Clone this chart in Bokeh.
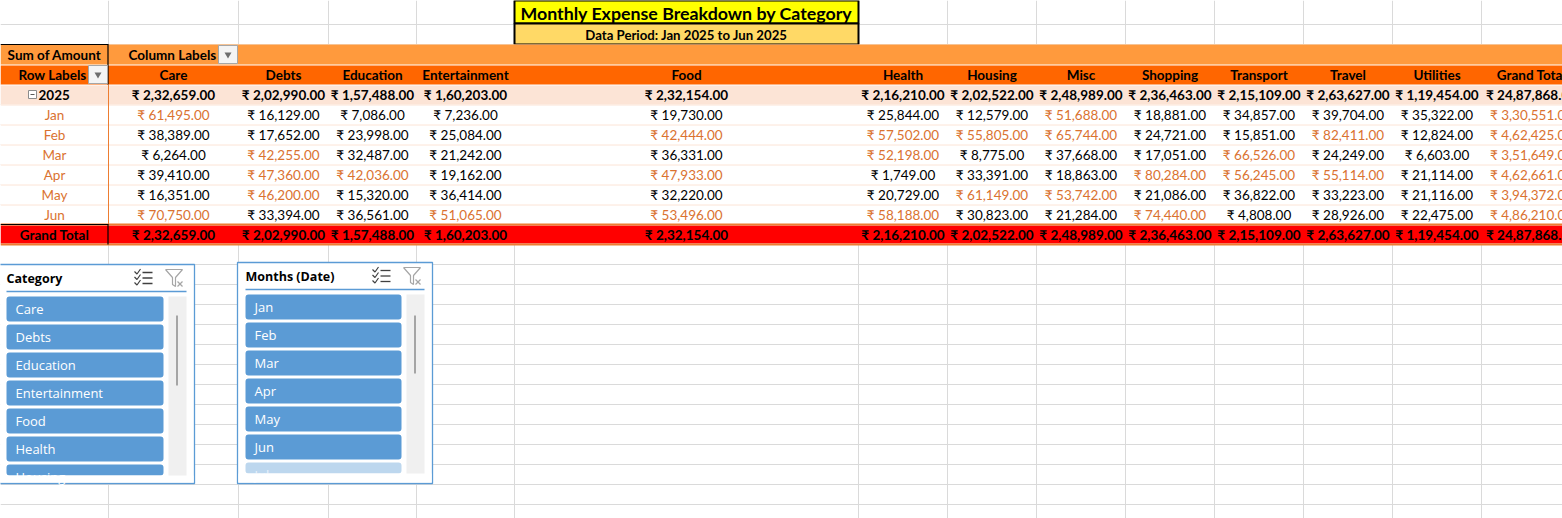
from bokeh.plotting import figure
from bokeh.models import ColumnDataSource, Range1d
from bokeh.core.properties import value
from bokeh.embed import file_html
from bokeh.resources import INLINE

TITLE = "Monthly Expense Breakdown by Category"
SUBTITLE = "Data Period: Jan 2025 to Jun 2025"
YEAR = "2025"

categories = ["Care", "Debts", "Education", "Entertainment", "Food", "Health",
              "Housing", "Misc", "Shopping", "Transport", "Travel", "Utilities"]
months = ["Jan", "Feb", "Mar", "Apr", "May", "Jun"]

care = [61495, 38389, 6264, 39410, 16351, 70750]
debts = [16129, 17652, 42255, 47360, 46200, 33394]
education = [7086, 23998, 32487, 42036, 15320, 36561]
entertainment = [7236, 25084, 21242, 19162, 36414, 51065]
food = [19730, 42444, 36331, 47933, 32220, 53496]
health = [25844, 57502, 52198, 1749, 20729, 58188]
housing = [12579, 55805, 8775, 33391, 61149, 30823]
misc = [51688, 65744, 37668, 18863, 53742, 21284]
shopping = [18881, 24721, 17051, 80284, 21086, 74440]
transport = [34857, 15851, 66526, 56245, 36822, 4808]
travel = [39704, 82411, 24249, 55114, 33223, 28926]
utilities = [35322, 12824, 6603, 21114, 21116, 22475]

slicer_categories = ["Care", "Debts", "Education", "Entertainment", "Food",
                     "Health", "Housing"]
slicer_months = ["Jan", "Feb", "Mar", "Apr", "May", "Jun", "Jul"]

series = [care, debts, education, entertainment, food, health, housing, misc,
          shopping, transport, travel, utilities]

# conditional formatting threshold used in the sheet
HIGHLIGHT = 40000

FONT = value("Lato")
SFONT = value("Open Sans")
GRID = "#DADADA"
ORANGE_TXT = "#DA7230"


def inr(v):
    s = str(int(v))
    if len(s) > 3:
        head, tail = s[:-3], s[-3:]
        parts = []
        while len(head) > 2:
            parts.insert(0, head[-2:])
            head = head[:-2]
        if head:
            parts.insert(0, head)
        s = ",".join(parts) + "," + tail
    return "\u20b9 " + s + ".00"


W, H = 1562, 518
p = figure(width=W, height=H, x_range=Range1d(0, W),
           y_range=Range1d(H, 0), output_backend="svg",
           toolbar_location=None, min_border=0,
           x_axis_location=None, y_axis_location=None)
p.grid.visible = False
p.outline_line_color = None
p.background_fill_color = "white"
p.border_fill_color = "white"


def put(xs, ys, texts, colors="black", size=13.5, bold=False, align="center",
        font=FONT):
    if isinstance(colors, str):
        colors = [colors] * len(xs)
    src = ColumnDataSource(dict(x=xs, y=ys, t=texts, c=colors))
    p.text("x", "y", text="t", text_color="c", source=src, text_font=font,
           text_font_size=f"{size}px",
           text_font_style="bold" if bold else "normal",
           text_align=align, text_baseline="middle")


# sheet gridlines
col_edges = [108, 238, 328, 416, 514, 858, 947, 1036, 1125, 1214, 1303,
             1392, 1481]
row_edges = [24 + 20 * k for k in range(25)]
p.multi_line([[x, x] for x in col_edges], [[0, 520]] * len(col_edges),
             line_color=GRID, line_width=1)
p.multi_line([[0, 1570]] * len(row_edges), [[y, y] for y in row_edges],
             line_color=GRID, line_width=1)

# title block
p.quad(left=[514], right=[858], top=[0], bottom=[23], fill_color="#FFFF00",
       line_color="black", line_width=2)
p.quad(left=[514], right=[858], top=[23], bottom=[44], fill_color="#FFD966",
       line_color="black", line_width=2)
put([686], [12], [TITLE], size=17.8, bold=True)
put([686], [34], [SUBTITLE], size=13.2, bold=True)

# pivot table
cols = [108, 238, 328, 416, 514, 858, 947, 1036, 1125, 1214, 1303, 1392,
        1481, 1581]
centers = [(a + b) / 2 for a, b in zip(cols[:-1], cols[1:])]
LEFT_C = 54

p.quad(left=[0], right=[1600], top=[44], bottom=[244], fill_color="white",
       line_color=None)
p.quad(left=[0], right=[1600], top=[44], bottom=[64], fill_color="#FF9A3D",
       line_color=None)
p.quad(left=[0], right=[1600], top=[65], bottom=[84], fill_color="#FF6600",
       line_color=None)
p.quad(left=[0], right=[1600], top=[85], bottom=[104], fill_color="#FCE4D6",
       line_color=None)
p.multi_line([[0, 1600]] * 6, [[104.5 + 20 * k] * 2 for k in range(6)],
             line_color="#FCE4D6", line_width=1)
p.quad(left=[0], right=[1600], top=[225], bottom=[243], fill_color="#FF0000",
       line_color=None)
p.multi_line([[0, 1600], [0, 1600]], [[224, 224], [244, 244]],
             line_color="#ED7D31", line_width=2)
p.line([108, 108], [84, 224], line_color="#ED7D31", line_width=1)
p.multi_line([[0, 108], [107.5, 107.5], [0, 108], [107.5, 107.5]],
             [[44, 44], [44, 84], [224, 224], [224, 244]],
             line_color="black", line_width=1.2)

put([LEFT_C], [54], ["Sum of Amount"], bold=True)
put([128], [54], ["Column Labels"], bold=True, align="left")
put([86], [74], ["Row Labels"], bold=True, align="right")
put(centers, [74] * len(categories), categories, bold=True)
put(centers[-1:], [74], ["Grand Total"], bold=True)

# dropdown buttons
p.quad(left=[218, 88], right=[237, 107], top=[45, 65], bottom=[63, 83],
       fill_color="#F4F4F4", line_color="#A6A6A6", line_width=1)
p.scatter([227.5, 97.5], [54, 74], marker="inverted_triangle", size=7,
          fill_color="#6E6E6E", line_color=None)

# year row
cat_totals = [sum(s) for s in series]
grand = sum(cat_totals)
p.quad(left=[28], right=[36], top=[90], bottom=[98], fill_color="white",
       line_color="#8C8C8C", line_width=1)
p.line([30, 34], [94, 94], line_color="#595959", line_width=1)
put([38], [94], [YEAR], bold=True, align="left")
put(centers, [94] * len(centers), [inr(v) for v in cat_totals + [grand]],
    bold=True)

# month rows
for i, m in enumerate(months):
    y = 114 + 20 * i
    vals = [s[i] for s in series]
    vals.append(sum(vals))
    put([LEFT_C], [y], [m], colors=ORANGE_TXT)
    put(centers, [y] * len(vals), [inr(v) for v in vals],
        colors=[ORANGE_TXT if v > HIGHLIGHT else "black" for v in vals])

# grand total row
put([LEFT_C], [234], ["Grand Total"], bold=True)
put(centers, [234] * len(centers), [inr(v) for v in cat_totals + [grand]],
    bold=True)


# slicers
def slicer(x0, x1, y0, y1, title, items, n_active, thumb):
    p.quad(left=[x0], right=[x1], top=[y0], bottom=[y1], fill_color="white",
           line_color="#5B9BD5", line_width=1.3)
    put([x0 + 8], [y0 + 14], [title], size=12.5, bold=True, align="left",
        font=SFONT)
    p.line([x0 + 8, x1 - 8], [y0 + 27, y0 + 27], line_color="#5B9BD5",
           line_width=1.5)
    # multi select icon
    ix = x1 - 60
    for k in range(3):
        yy = y0 + 7 + 5.5 * k
        p.line([ix, ix + 2.5, ix + 6], [yy, yy + 2.5, yy - 2.5],
               line_color="#404040", line_width=1.2)
        p.line([ix + 8, ix + 18], [yy + 1, yy + 1], line_color="#404040",
               line_width=1.3)
    # clear filter icon (disabled)
    fx = x1 - 29
    p.line([fx, fx + 17, fx + 10, fx + 10, fx + 7, fx + 7, fx],
           [y0 + 5, y0 + 5, y0 + 13, y0 + 22, y0 + 20, y0 + 13, y0 + 5],
           line_color="#A6A6A6", line_width=1.2)
    p.multi_line([[fx + 12, fx + 17], [fx + 12, fx + 17]],
                 [[y0 + 17, y0 + 22], [y0 + 22, y0 + 17]],
                 line_color="#A6A6A6", line_width=1.2)
    # items, the list is cut at the bottom of the visible area
    top0 = y0 + 32
    clip = top0 + 179
    lefts, rights, tops, bots, fills, tcol, ty, tx = [], [], [], [], [], [], [], []
    for k, it in enumerate(items):
        t = top0 + 28 * k
        lefts.append(x0 + 8)
        rights.append(x1 - 31)
        tops.append(t)
        bots.append(min(t + 25, clip))
        active = k < n_active
        fills.append("#5B9BD5" if active else "#BDD7EE")
        tcol.append("white" if active else "#E8F1FA")
        ty.append(t + 12.5)
        tx.append(x0 + 17)
    p.quad(left=lefts, right=rights, top=tops, bottom=bots, fill_color=fills,
           line_color=None, border_radius=3)
    put(tx, ty, items, colors=tcol, size=13, align="left", font=SFONT)
    p.quad(left=[x0 + 1], right=[x1 - 1], top=[clip], bottom=[y1 - 1],
           fill_color="white", line_color=None)
    # scrollbar
    p.quad(left=[x1 - 26], right=[x1 - 8], top=[top0], bottom=[clip],
           fill_color="#F0F0F0", line_color=None)
    p.line([x1 - 17.5, x1 - 17.5], thumb, line_color="#8C8C8C", line_width=1.5)


slicer(-2, 194, 264, 483, "Category", slicer_categories,
       len(slicer_categories), [315, 385])
slicer(237, 432, 262, 483, "Months (Date)", slicer_months, len(months),
       [315, 373])

open("out.html", "w").write(file_html(p, INLINE))
